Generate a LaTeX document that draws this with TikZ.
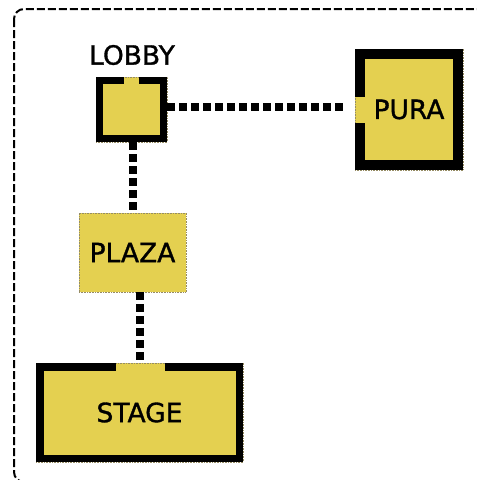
\documentclass[tikz,border=0pt]{standalone}
\usepackage{fontspec}
\setmainfont{DejaVu Sans}
\newfontfamily\roomfont{DejaVu Sans}[FakeBold=1.2]
\usetikzlibrary{calc}
\definecolor{roomfill}{RGB}{228,208,80}
\definecolor{edgegray}{RGB}{150,140,100}
\begin{document}
\begin{tikzpicture}[x=1pt,y=-1pt,
  room/.style={draw=edgegray, densely dotted, line width=0.6pt, fill=roomfill, inner sep=0pt, font=\roomfont\fontsize{26.5}{30}\selectfont},
  wall/.style={line width=#1, line join=miter, line cap=butt, draw=black},
  corridor/.style={line width=8pt, dash pattern=on 8pt off 4pt, draw=black},
  roomlabel/.style={font=\roomfont\fontsize{26.5}{30}\selectfont}]
\useasboundingbox (0,0) rectangle (477,480);
\begin{scope}
  \clip (0,0) rectangle (477,480);
  \draw[line width=2pt, dash pattern=on 8pt off 3pt, rounded corners=10pt] (14,9) rectangle (492,482);
\end{scope}
% rooms
\node[room, minimum width=71pt, minimum height=65pt] (lobby) at (131.5,109.5) {};
\node[roomlabel] (lobbylabel) at (132,55) {LOBBY};
\node[room, minimum width=108pt, minimum height=121pt] (pura) at (409,109.5) {PURA};
\node[room, minimum width=107pt, minimum height=79pt] (plaza) at (132.5,252.5) {PLAZA};
\node[room, minimum width=207pt, minimum height=99pt] (stage) at (139.5,412.5) {STAGE};
% walls
\draw[wall=7pt] (139,80.5) -- (163.5,80.5) -- (163.5,138.5) -- (99.5,138.5) -- (99.5,80.5) -- (124,80.5);
\draw[wall=10pt] (360,97) -- (360,54) -- (458,54) -- (458,165) -- (360,165) -- (360,123);
\draw[wall=7.5pt] (165,366.75) -- (239.25,366.75) -- (239.25,458.25) -- (39.75,458.25) -- (39.75,366.75) -- (116,366.75);
% corridors
\draw[corridor] ($(lobby.east)+(0,-2.5)$) -- ($(pura.west)+(-8,-2.5)$);
\draw[corridor] (lobby.south -| plaza.north) -- (plaza.north);
\draw[corridor] (stage.north |- plaza.south) -- (stage.north);
\end{tikzpicture}
\end{document}
